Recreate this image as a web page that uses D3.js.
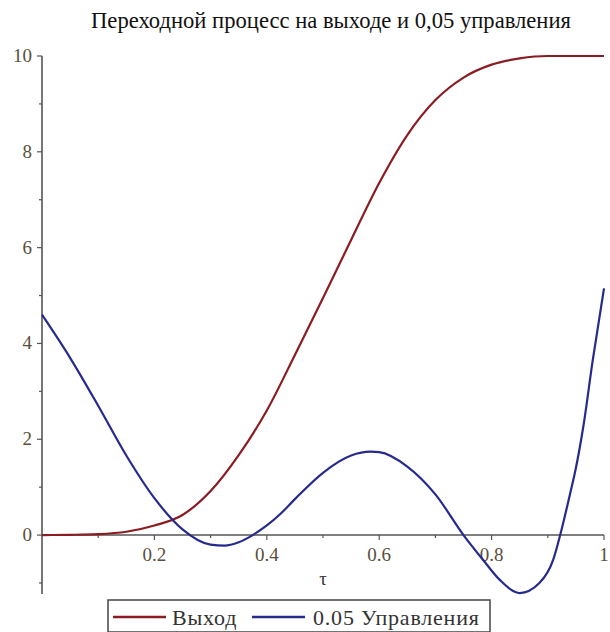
<!DOCTYPE html>
<html><head><meta charset="utf-8">
<script src="https://cdn.jsdelivr.net/npm/d3@7"></script>
<style>body{margin:0;background:#fff}svg{display:block}</style>
</head><body>
<svg id="c" width="610" height="632"></svg>
<script>
const title = "Переходной процесс на выходе и 0,05 управления";
const xLabel = "τ";
const seriesNames = ["Выход", "0.05 Управления"];
const seriesColors = ["#8a1c22", "#262a8c"];
const tauOut = [0,0.05,0.1,0.15,0.2,0.25,0.3,0.35,0.4,0.45,0.5,0.55,0.6,0.65,0.7,0.75,0.8,0.85,0.9,0.95,1];
const outputVals = [0,0.005,0.02,0.07,0.2,0.42,0.92,1.67,2.6,3.76,4.95,6.16,7.35,8.35,9.08,9.55,9.82,9.95,10,10,10];
const tauCtrl = [0,0.05,0.1,0.15,0.2,0.25,0.3,0.325,0.35,0.375,0.4,0.425,0.45,0.5,0.55,0.585,0.6,0.65,0.7,0.75,0.785,0.815,0.85,0.885,0.91,0.922,0.94,0.95,0.963,0.98,1];
const controlVals = [4.6,3.7,2.7,1.66,0.77,0.12,-0.2,-0.22,-0.15,0,0.2,0.45,0.75,1.3,1.66,1.74,1.73,1.43,0.85,0,-0.52,-0.94,-1.21,-1.0,-0.5,0,0.88,1.4,2.25,3.65,5.15];
const xMajor = [0.2,0.4,0.6,0.8,1];
const xMinor = [0.1,0.3,0.5,0.7,0.9];
const yMajor = [0,2,4,6,8,10];
const yMinor = [-1,1,3,5,7,9];

const svg = d3.select("#c");
const x = d3.scaleLinear().domain([0,1]).range([42,604]);
const y = d3.scaleLinear().domain([-1.23,10]).range([594,56]);
const axisColor = "#555";
const serif = "'Liberation Serif', 'Times New Roman', serif";

svg.append("text").attr("x",331).attr("y",28).attr("text-anchor","middle")
  .style("font-family",serif).attr("font-size",22.6).attr("fill","#111").text(title);

// y axis
const gy = svg.append("g").attr("transform",`translate(${x(0)},0)`);
gy.append("line").attr("y1",y(10)).attr("y2",y(-1.23)).attr("stroke",axisColor).attr("stroke-width",1.6);
gy.selectAll(".ymaj").data(yMajor).join("line").attr("x1",-5).attr("x2",0)
  .attr("y1",d=>y(d)).attr("y2",d=>y(d)).attr("stroke",axisColor).attr("stroke-width",1.2);
gy.selectAll(".ymin").data(yMinor).join("line").attr("x1",-3).attr("x2",0)
  .attr("y1",d=>y(d)).attr("y2",d=>y(d)).attr("stroke",axisColor).attr("stroke-width",1.2);
gy.selectAll("text").data(yMajor).join("text").attr("x",-10).attr("y",d=>y(d)+6)
  .attr("text-anchor","end").style("font-family",serif).attr("font-size",19)
  .attr("fill","#5a4f3a").text(d=>d);

// x axis
const gx = svg.append("g").attr("transform",`translate(0,${y(0)})`);
gx.append("line").attr("x1",x(0)).attr("x2",x(1)).attr("stroke",axisColor).attr("stroke-width",1.6);
gx.selectAll(".xmaj").data(xMajor).join("line").attr("y1",0).attr("y2",5)
  .attr("x1",d=>x(d)).attr("x2",d=>x(d)).attr("stroke",axisColor).attr("stroke-width",1.2);
gx.selectAll(".xmin").data(xMinor).join("line").attr("y1",0).attr("y2",3)
  .attr("x1",d=>x(d)).attr("x2",d=>x(d)).attr("stroke",axisColor).attr("stroke-width",1.2);
gx.selectAll("text").data(xMajor).join("text").attr("x",d=>x(d)).attr("y",26)
  .attr("text-anchor","middle").style("font-family",serif).attr("font-size",19)
  .attr("fill","#5a4f3a").text(d=>d);
svg.append("text").attr("x",x(0.5)).attr("y",585).attr("text-anchor","middle")
  .style("font-family",serif).attr("font-size",19).attr("fill","#333").text(xLabel);

// lines
const line = d3.line().x(d=>x(d[0])).y(d=>y(d[1])).curve(d3.curveMonotoneX);
svg.append("path").datum(tauOut.map((t,i)=>[t,outputVals[i]])).attr("d",line)
  .attr("fill","none").attr("stroke",seriesColors[0]).attr("stroke-width",2.2);
svg.append("path").datum(tauCtrl.map((t,i)=>[t,controlVals[i]])).attr("d",line)
  .attr("fill","none").attr("stroke",seriesColors[1]).attr("stroke-width",2.2);

// legend
const lg = svg.append("g");
lg.append("rect").attr("x",108).attr("y",600).attr("width",382).attr("height",32)
  .attr("fill","#fff").attr("stroke","#444").attr("stroke-width",1.5);
const items = [{x:113, tx:172}, {x:252, tx:313}];
items.forEach((it,i)=>{
  lg.append("line").attr("x1",it.x).attr("x2",it.x+53).attr("y1",617).attr("y2",617)
    .attr("stroke",seriesColors[i]).attr("stroke-width",2.5);
  lg.append("text").attr("x",it.tx).attr("y",625).style("font-family",serif)
    .attr("font-size",22).style("letter-spacing","0.8px").attr("fill","#333").text(seriesNames[i]);
});
</script>
</body></html>
